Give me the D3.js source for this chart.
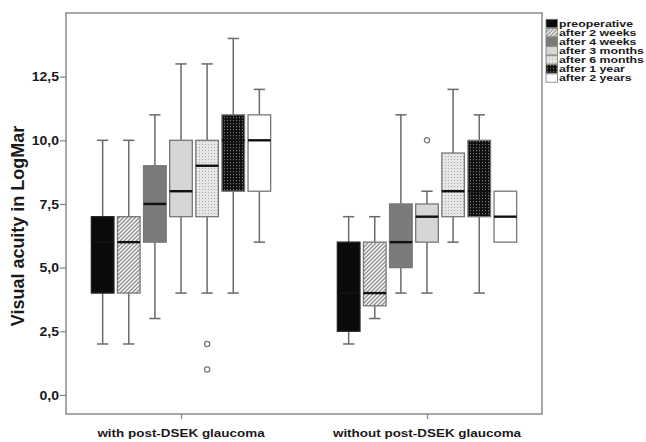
<!DOCTYPE html>
<html>
<head>
<meta charset="utf-8">
<script src="https://cdn.jsdelivr.net/npm/d3@7"></script>
<style>
  body { margin: 0; background: #fff; }
  text { font-family: Arial, "Liberation Sans", sans-serif; font-weight: bold; fill: #1a1a1a; }
</style>
</head>
<body>
<div id="chart"></div>
<script>
const categories = ['with post-DSEK glaucoma', 'without post-DSEK glaucoma'];
const series = ['preoperative', 'after 2 weeks', 'after 4 weeks', 'after 3 months', 'after 6 months', 'after 1 year', 'after 2 years'];

// one row per category, one value per series
const whiskerLow = [[2, 2, 3, 4, 4, 4, 6], [2, 3, 4, 4, 6, 4, 6]];
const q1 = [[4, 4, 6, 7, 7, 8, 8], [2.5, 3.5, 5, 6, 7, 7, 6]];
const median = [[6, 6, 7.5, 8, 9, 10, 10], [4, 4, 6, 7, 8, 8, 7]];
const q3 = [[7, 7, 9, 10, 10, 11, 11], [6, 6, 7.5, 7.5, 9.5, 10, 8]];
const whiskerHigh = [[10, 10, 11, 13, 13, 14, 12], [7, 7, 11, 8, 12, 11, 8]];
const outliers = [[[], [], [], [], [2, 1], [], []], [[], [], [], [10], [], [], []]];

const yTicks = [0, 2.5, 5, 7.5, 10, 12.5];
const yTickLabels = ['0,0', '2,5', '5,0', '7,5', '10,0', '12,5'];

const fills = ['#0a0a0a', 'url(#hatch)', '#7b7b7b', '#d6d6d6', 'url(#dotsLight)', 'url(#dotsDark)', '#ffffff'];

const W = 646, H = 442;
const plot = { left: 66, top: 13, right: 542, bottom: 414 };
const sx = 1.17; // picture is a little wider than tall

const svg = d3.select('#chart').append('svg')
  .attr('width', W).attr('height', H);

// patterns
const defs = svg.append('defs');
const hatch = defs.append('pattern').attr('id', 'hatch')
  .attr('patternUnits', 'userSpaceOnUse').attr('width', 4).attr('height', 4);
hatch.append('rect').attr('width', 4).attr('height', 4).attr('fill', '#fafafa');
hatch.append('path').attr('d', 'M-1,1 l2,-2 M0,4 l4,-4 M3,5 l2,-2')
  .attr('stroke', '#8c8c8c').attr('stroke-width', 1.3);

const dl = defs.append('pattern').attr('id', 'dotsLight')
  .attr('patternUnits', 'userSpaceOnUse').attr('width', 3).attr('height', 3);
dl.append('rect').attr('width', 3).attr('height', 3).attr('fill', '#e6e6e6');
dl.append('rect').attr('width', 1).attr('height', 1).attr('fill', '#a8a8a8');

const dd = defs.append('pattern').attr('id', 'dotsDark')
  .attr('patternUnits', 'userSpaceOnUse').attr('width', 3).attr('height', 3);
dd.append('rect').attr('width', 3).attr('height', 3).attr('fill', '#101010');
dd.append('rect').attr('x', 1).attr('width', 1).attr('height', 1.2).attr('fill', '#7a7a7a');

// scales
const y = d3.scaleLinear().domain([-0.75, 15]).range([plot.bottom, plot.top]);
const x = d3.scalePoint().domain(categories).range([plot.left, plot.right]).padding(0.4675);
const inner = d3.scaleBand().domain(series).range([-91.4, 91.4]).paddingInner(0.134).paddingOuter(0.067);
const bw = inner.bandwidth();

// frame
svg.append('rect')
  .attr('x', plot.left).attr('y', plot.top)
  .attr('width', plot.right - plot.left).attr('height', plot.bottom - plot.top)
  .attr('fill', 'none').attr('stroke', '#8a8a8a').attr('stroke-width', 1.5);

// y axis
const yAxis = svg.append('g')
  .attr('transform', `translate(${plot.left},0)`)
  .call(d3.axisLeft(y).tickValues(yTicks).tickSize(6).tickFormat((d, i) => yTickLabels[i]));
yAxis.select('.domain').remove();
yAxis.selectAll('.tick line').attr('stroke', '#8a8a8a').attr('stroke-width', 1.3);
yAxis.selectAll('.tick text')
  .attr('x', 0).attr('dy', '0.35em')
  .attr('transform', `translate(-7,0) scale(${sx},1)`)
  .style('font-size', '12px').style('font-family', 'Arial, "Liberation Sans", sans-serif')
  .style('font-weight', 'bold').attr('fill', '#1a1a1a');

// x axis
const xAxis = svg.append('g')
  .attr('transform', `translate(0,${plot.bottom})`)
  .call(d3.axisBottom(x).tickSize(5).tickFormat(''));
xAxis.select('.domain').remove();
xAxis.selectAll('.tick line').attr('stroke', '#8a8a8a').attr('stroke-width', 1.3);
categories.forEach(c => {
  svg.append('text')
    .attr('transform', `translate(${x(c)},437) scale(${sx},1)`)
    .attr('text-anchor', 'middle')
    .style('font-size', '11.5px')
    .text(c);
});

// y title
svg.append('text')
  .attr('transform', 'translate(24,226) scale(1.05,1) rotate(-90)')
  .attr('text-anchor', 'middle')
  .style('font-size', '18px')
  .text('Visual acuity in LogMar');

// boxes
categories.forEach((cat, gi) => {
  const g = svg.append('g').attr('transform', `translate(${x(cat)},0)`);
  series.forEach((s, si) => {
    const x0 = inner(s), cx = x0 + bw / 2;
    const lo = whiskerLow[gi][si], hi = whiskerHigh[gi][si];
    const a = q1[gi][si], b = q3[gi][si], m = median[gi][si];
    const wcol = '#6a6a6a';
    if (hi > b) {
      g.append('line').attr('x1', cx).attr('x2', cx).attr('y1', y(hi)).attr('y2', y(b))
        .attr('stroke', wcol).attr('stroke-width', 1.5);
      g.append('line').attr('x1', cx - bw / 4).attr('x2', cx + bw / 4).attr('y1', y(hi)).attr('y2', y(hi))
        .attr('stroke', wcol).attr('stroke-width', 1.5);
    }
    if (lo < a) {
      g.append('line').attr('x1', cx).attr('x2', cx).attr('y1', y(a)).attr('y2', y(lo))
        .attr('stroke', wcol).attr('stroke-width', 1.5);
      g.append('line').attr('x1', cx - bw / 4).attr('x2', cx + bw / 4).attr('y1', y(lo)).attr('y2', y(lo))
        .attr('stroke', wcol).attr('stroke-width', 1.5);
    }
    g.append('rect')
      .attr('x', x0).attr('y', y(b)).attr('width', bw).attr('height', y(a) - y(b))
      .attr('fill', fills[si]).attr('stroke', si === 0 ? '#222' : '#777').attr('stroke-width', 1.3);
    g.append('line').attr('x1', x0).attr('x2', x0 + bw).attr('y1', y(m)).attr('y2', y(m))
      .attr('stroke', '#111').attr('stroke-width', 2.4);
    g.selectAll(null).data(outliers[gi][si]).enter().append('circle')
      .attr('cx', cx).attr('cy', d => y(d)).attr('r', 2.6)
      .attr('fill', '#fff').attr('stroke', '#777').attr('stroke-width', 1.3);
  });
});

// legend
const legend = svg.append('g').attr('transform', 'translate(546,19.3)');
series.forEach((s, i) => {
  const row = legend.append('g').attr('transform', `translate(0,${i * 9.1})`);
  row.append('rect').attr('width', 11.5).attr('height', 8.3)
    .attr('fill', fills[i]).attr('stroke', '#777').attr('stroke-width', 0.8);
  row.append('text')
    .attr('transform', `translate(13,7.6) scale(1.3,1)`)
    .style('font-size', '9.5px')
    .text(s);
});
</script>
</body>
</html>
